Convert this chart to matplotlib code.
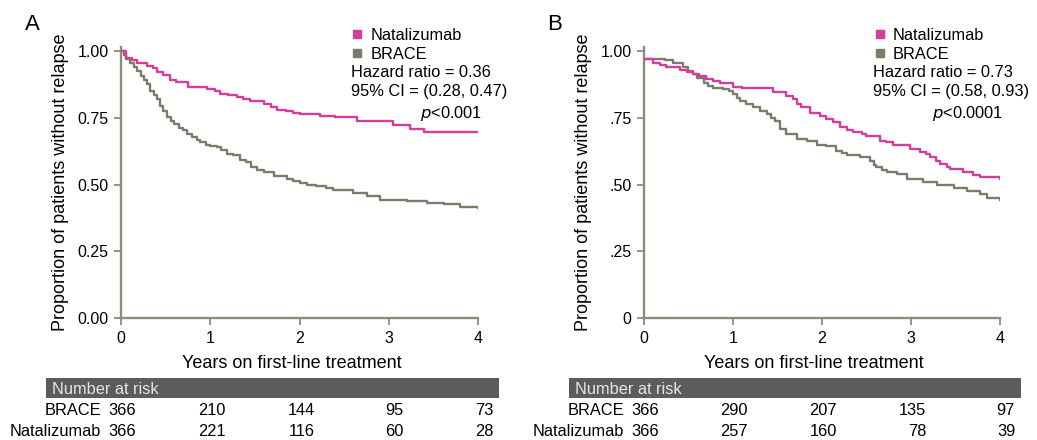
import matplotlib
matplotlib.use('Agg')
import matplotlib.pyplot as plt
import matplotlib.transforms as mtrans
from matplotlib.lines import Line2D

plt.rcParams['font.family'] = ['Liberation Sans', 'DejaVu Sans']
plt.rcParams['font.size'] = 12

PINK = '#d43d9c'
GRAY = '#7d7b6c'
AXC = '#8d8b7e'
FS_TICK = 11.5
FS_LAB = 13
FS_TXT = 11.8

# ---- Panel A: Kaplan-Meier step points (years, proportion) ----
a_nat_t = [0, 0.06, 0.12, 0.18, 0.29, 0.36, 0.4, 0.47, 0.55, 0.62, 0.75, 0.96, 1.05, 1.11,
           1.2, 1.3, 1.37, 1.45, 1.6, 1.68, 1.75, 1.85, 1.93, 2.0, 2.23, 2.4, 2.64, 3.05,
           3.24, 3.39, 4.0]
a_nat_s = [1.0, 0.975, 0.965, 0.955, 0.944, 0.935, 0.92, 0.91, 0.89, 0.885, 0.866, 0.857,
           0.85, 0.84, 0.835, 0.827, 0.82, 0.813, 0.80, 0.79, 0.78, 0.775, 0.768, 0.763,
           0.758, 0.752, 0.737, 0.724, 0.708, 0.696, 0.696]
a_brace_t = [0, 0.03, 0.06, 0.1, 0.14, 0.18, 0.22, 0.26, 0.29, 0.33, 0.37, 0.4, 0.44, 0.47,
             0.52, 0.56, 0.59, 0.65, 0.7, 0.74, 0.8, 0.85, 0.89, 0.95, 1.0, 1.07, 1.12, 1.19,
             1.25, 1.33, 1.4, 1.46, 1.52, 1.6, 1.71, 1.86, 1.93, 2.0, 2.08, 2.19, 2.3, 2.38,
             2.6, 2.76, 2.9, 3.2, 3.43, 3.62, 3.8, 4.0]
a_brace_s = [1.0, 0.985, 0.97, 0.955, 0.94, 0.925, 0.905, 0.89, 0.876, 0.85, 0.835, 0.82,
             0.795, 0.776, 0.755, 0.74, 0.727, 0.713, 0.705, 0.69, 0.68, 0.668, 0.658, 0.65,
             0.645, 0.64, 0.63, 0.615, 0.61, 0.592, 0.584, 0.565, 0.555, 0.547, 0.534, 0.522,
             0.515, 0.506, 0.5, 0.494, 0.488, 0.478, 0.468, 0.456, 0.443, 0.438, 0.431, 0.426,
             0.416, 0.414]

# ---- Panel B ----
b_nat_t = [0, 0.1, 0.18, 0.25, 0.4, 0.48, 0.55, 0.62, 0.7, 0.78, 0.85, 1.0, 1.1, 1.45, 1.6,
           1.68, 1.72, 1.76, 1.87, 1.98, 2.05, 2.12, 2.2, 2.28, 2.35, 2.45, 2.5, 2.65, 2.72,
           2.8, 2.99, 3.1, 3.17, 3.21, 3.28, 3.33, 3.4, 3.44, 3.59, 3.7, 3.78, 4.0]
b_nat_s = [0.97, 0.955, 0.948, 0.94, 0.93, 0.92, 0.913, 0.905, 0.894, 0.887, 0.882, 0.866,
           0.86, 0.845, 0.832, 0.82, 0.80, 0.79, 0.77, 0.758, 0.745, 0.733, 0.714, 0.705,
           0.696, 0.69, 0.683, 0.665, 0.66, 0.65, 0.634, 0.621, 0.615, 0.603, 0.59, 0.578,
           0.565, 0.559, 0.547, 0.535, 0.528, 0.522]
b_brace_t = [0, 0.24, 0.33, 0.44, 0.5, 0.55, 0.6, 0.67, 0.72, 0.78, 0.89, 0.95, 1.0, 1.04,
             1.08, 1.15, 1.23, 1.3, 1.38, 1.43, 1.47, 1.53, 1.6, 1.72, 1.83, 1.94, 2.05, 2.16,
             2.22, 2.28, 2.43, 2.54, 2.58, 2.61, 2.68, 2.73, 2.84, 2.95, 3.14, 3.29, 3.48,
             3.63, 3.78, 3.85, 4.0]
b_brace_s = [0.97, 0.965, 0.956, 0.94, 0.925, 0.913, 0.9, 0.882, 0.87, 0.86, 0.857, 0.85,
             0.838, 0.825, 0.814, 0.8, 0.789, 0.775, 0.764, 0.75, 0.739, 0.708, 0.689, 0.671,
             0.665, 0.65, 0.646, 0.627, 0.62, 0.612, 0.605, 0.59, 0.575, 0.565, 0.555, 0.547,
             0.538, 0.522, 0.509, 0.497, 0.488, 0.476, 0.463, 0.451, 0.443]

risk_years = [0, 1, 2, 3, 4]
a_risk_brace = [366, 210, 144, 95, 73]
a_risk_nat = [366, 221, 116, 60, 28]
b_risk_brace = [366, 290, 207, 135, 97]
b_risk_nat = [366, 257, 160, 78, 39]

a_yticklabels = ['0.00', '0.25', '0.50', '0.75', '1.00']
b_yticklabels = ['0', '.25', '.50', '.75', '1.00']

fig = plt.figure(figsize=(10.37, 4.4), dpi=100)

panels = [
    dict(rect=[0.1167, 0.277, 0.3443, 0.616], letter='A', nat=(a_nat_t, a_nat_s),
         brace=(a_brace_t, a_brace_s), yt=a_yticklabels, hr='Hazard ratio = 0.36',
         ci='95% CI = (0.28, 0.47)', p='0.001', rb=a_risk_brace, rn=a_risk_nat),
    dict(rect=[0.621, 0.277, 0.3433, 0.616], letter='B', nat=(b_nat_t, b_nat_s),
         brace=(b_brace_t, b_brace_s), yt=b_yticklabels, hr='Hazard ratio = 0.73',
         ci='95% CI = (0.58, 0.93)', p='0.0001', rb=b_risk_brace, rn=b_risk_nat),
]

for P in panels:
    ax = fig.add_axes(P['rect'])
    ax.step(*P['brace'], where='post', color=GRAY, lw=1.7, zorder=3)
    ax.step(*P['nat'], where='post', color=PINK, lw=1.7, zorder=4)
    ax.set_xlim(0, 4)
    ax.set_ylim(0, 1.015)
    ax.set_xticks([0, 1, 2, 3, 4])
    ax.set_yticks([0, 0.25, 0.5, 0.75, 1.0])
    ax.set_yticklabels(P['yt'])
    for s in ['top', 'right']:
        ax.spines[s].set_visible(False)
    for s in ['left', 'bottom']:
        ax.spines[s].set_color(AXC)
        ax.spines[s].set_linewidth(1.7)
    ax.tick_params(colors=AXC, labelcolor='black', labelsize=FS_TICK, length=5, width=1.3,
                   pad=4)
    ax.set_xlabel('Years on first-line treatment', fontsize=FS_LAB)
    ax.xaxis.set_label_coords(0.478, -0.135)
    ax.set_ylabel('Proportion of patients without relapse', fontsize=FS_LAB, labelpad=6)
    ax.patch.set_alpha(0)

    # legend + statistics
    handles = [Line2D([], [], ls='none', marker='s', ms=5.5, color=PINK),
               Line2D([], [], ls='none', marker='s', ms=5.5, color=GRAY)]
    ax.legend(handles, ['Natalizumab', 'BRACE'], loc='upper left',
              bbox_to_anchor=(0.63, 1.095), frameon=False, fontsize=FS_TXT,
              handlelength=0.6, handletextpad=0.5, labelspacing=0.25, borderaxespad=0)
    ax.text(0.643, 0.905, P['hr'], transform=ax.transAxes, fontsize=FS_TXT, va='center')
    ax.text(0.643, 0.835, P['ci'], transform=ax.transAxes, fontsize=FS_TXT, va='center')
    ax.text(1.01, 0.755, r'$p$<' + P['p'], transform=ax.transAxes, fontsize=FS_TXT,
            va='center', ha='right')

    # panel letter
    x0 = P['rect'][0]
    fig.text(x0 - 0.093, 0.945, P['letter'], fontsize=16, va='center')

    # number at risk table
    bar = ax.inset_axes([-0.211, -0.295, 1.27, 0.073])
    bar.set_facecolor('#5c5c5c')
    bar.set_xticks([])
    bar.set_yticks([])
    for s in bar.spines.values():
        s.set_visible(False)
    bar.text(0.014, 0.45, 'Number at risk', color='#e6e6e6', fontsize=FS_TXT,
             va='center', ha='left', transform=bar.transAxes)

    tr = mtrans.blended_transform_factory(ax.transData, ax.transAxes)
    for row_y, label, vals in [(-0.34, 'BRACE', P['rb']), (-0.418, 'Natalizumab', P['rn'])]:
        ax.text(-0.22, row_y, label, fontsize=FS_TXT, ha='right', va='center', transform=tr)
        for yr, v in zip(risk_years, vals):
            ax.text(yr + 0.17, row_y, str(v), fontsize=FS_TXT, ha='right', va='center',
                    transform=tr)

fig.savefig('out.png', dpi=100)
